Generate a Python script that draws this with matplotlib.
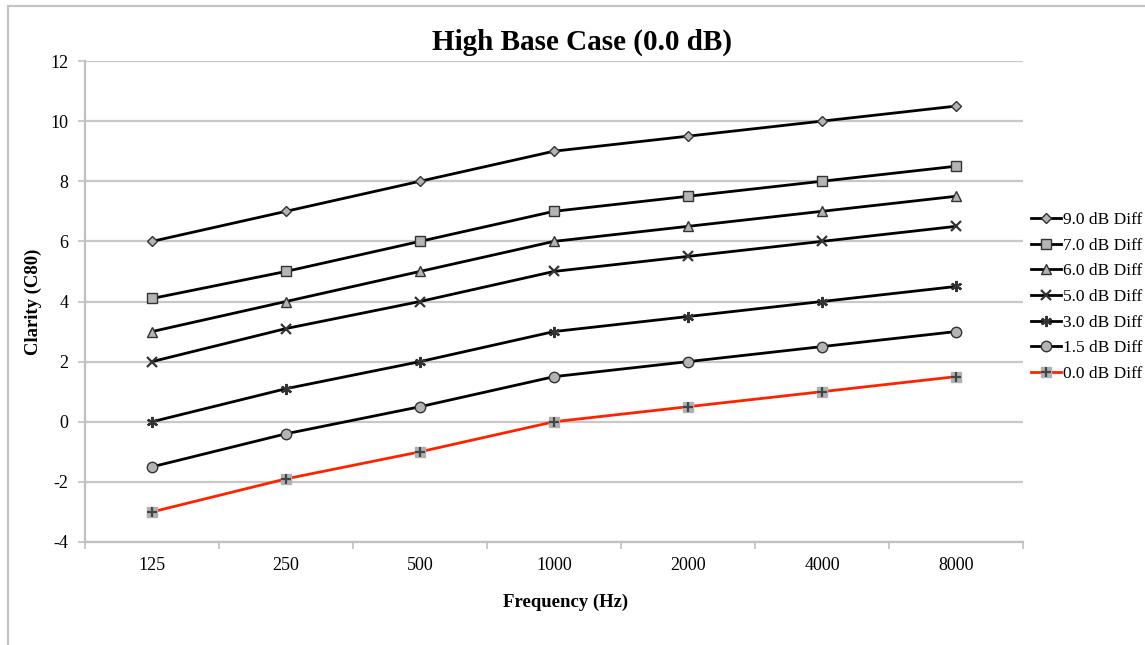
import matplotlib
matplotlib.use('Agg')
from matplotlib import pyplot as plt
from matplotlib.patches import Rectangle

plt.rcParams['font.family'] = ['Liberation Serif', 'DejaVu Serif']
plt.rcParams['axes.unicode_minus'] = False

frecuencias = ['125', '250', '500', '1000', '2000', '4000', '8000']
etiquetas = ['9.0 dB Diff', '7.0 dB Diff', '6.0 dB Diff', '5.0 dB Diff',
             '3.0 dB Diff', '1.5 dB Diff', '0.0 dB Diff']
diff_9_0 = [6, 7, 8, 9, 9.5, 10, 10.5]
diff_7_0 = [4.1, 5, 6, 7, 7.5, 8, 8.5]
diff_6_0 = [3, 4, 5, 6, 6.5, 7, 7.5]
diff_5_0 = [2, 3.1, 4, 5, 5.5, 6, 6.5]
diff_3_0 = [0, 1.1, 2, 3, 3.5, 4, 4.5]
diff_1_5 = [-1.5, -0.4, 0.5, 1.5, 2, 2.5, 3]
diff_0_0 = [-3, -1.9, -1, 0, 0.5, 1, 1.5]

fig = plt.figure(figsize=(11.45, 6.45), dpi=100)
ax = fig.add_axes([85/1145, 1 - 542/645, (1023 - 85)/1145, (542 - 61)/645])

# marco gris alrededor del grafico
fig.patches.append(Rectangle((8/1145, -0.1), 1.2, 1 - 6/645 + 0.1,
                             transform=fig.transFigure, fill=False,
                             edgecolor='#c4c4c4', lw=1.6))

x = list(range(len(frecuencias)))
gris = '#b4b4b4'
series = [
    (diff_9_0, 'D', 5, 1.0),
    (diff_7_0, 's', 7.5, 1.0),
    (diff_6_0, '^', 7, 1.0),
    (diff_5_0, 'x', 7, 1.6),
    (diff_3_0, (6, 2, 0), 8, 1.6),
    (diff_1_5, 'o', 7.5, 1.0),
]
handles = []
for valores, marca, tam, mew in series:
    h, = ax.plot(x, valores, color='black', lw=2, marker=marca, ms=tam,
                 mfc=gris, mec='#333333', mew=mew, zorder=3)
    handles.append(h)

# serie 0.0 dB: cuadro gris con cruz oscura
rojo, = ax.plot(x, diff_0_0, color='#ff2200', lw=2, marker='s', ms=7,
                mfc='#b0b0b0', mec='#b0b0b0', zorder=3)
cruz, = ax.plot(x, diff_0_0, ls='none', marker='+', ms=7, mec='#444444',
                mew=1.6, zorder=4)
handles.append((rojo, cruz))

ax.set_xlim(-0.5, len(frecuencias) - 0.5)
ax.set_ylim(-4, 12)
ax.set_yticks(range(-4, 13, 2))
ax.set_xticks(x)
ax.set_xticklabels(frecuencias)
ax.set_xticks([i - 0.5 for i in range(len(frecuencias) + 1)], minor=True)
ax.yaxis.grid(True, color='#c8c8c8', lw=1.6)
ax.set_axisbelow(True)
for lado in ['top', 'right']:
    ax.spines[lado].set_visible(False)
for lado in ['left', 'bottom']:
    ax.spines[lado].set_color('#c0c0c0')
    ax.spines[lado].set_linewidth(1.6)
ax.tick_params(axis='y', direction='out', length=5, color='#c0c0c0',
               width=1.2, labelsize=13, pad=7)
ax.tick_params(axis='x', which='major', length=0, labelsize=13, pad=11)
ax.tick_params(axis='x', which='minor', direction='out', length=5,
               color='#c0c0c0', width=1.2)

ax.set_title('High Base Case (0.0 dB)', fontsize=21, fontweight='bold',
             pad=8, x=0.53)
ax.set_xlabel('Frequency (Hz)', fontsize=13.5, fontweight='bold', labelpad=14)
ax.xaxis.label.set_x(0.512)
ax.set_ylabel('Clarity (C80)', fontsize=13.4, fontweight='bold', labelpad=6)

fig.legend(handles, etiquetas, loc='center left',
           bbox_to_anchor=(1031/1145, 1 - 297/645), frameon=False,
           fontsize=12.5, handlelength=1.75, handletextpad=0.1,
           labelspacing=0.55, borderpad=0, borderaxespad=0)

fig.savefig('out.png', dpi=100)
